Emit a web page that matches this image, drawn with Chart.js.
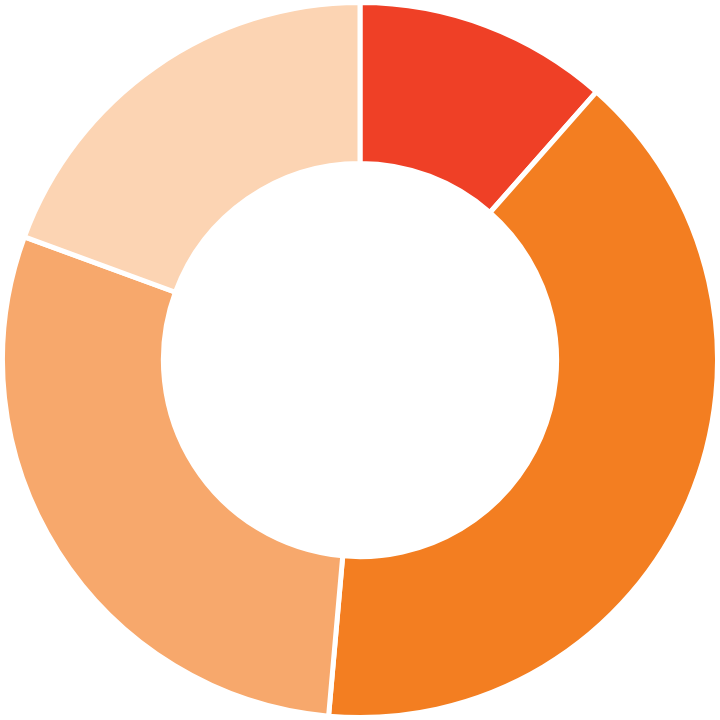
<!DOCTYPE html>
<html>
<head>
<meta charset="utf-8">
<script src="https://cdn.jsdelivr.net/npm/chart.js@4"></script>
<style>
  html, body { margin: 0; padding: 0; background: #fff; }
  #box { width: 720px; height: 720px; }
</style>
</head>
<body>
<div id="box"><canvas id="chartCanvas"></canvas></div>
<script>
// andele i procent, med uret fra toppen
const labels = ['A', 'B', 'C', 'D'];
const values = [11.5, 39.9, 29.2, 19.4];
const colors = ['#EF4026', '#F37E21', '#F7A86C', '#FCD4B3'];

let chart;

function showChart() {
  chart = new Chart(document.getElementById('chartCanvas'), {
    type: 'doughnut',
    data: {
      labels: labels,
      datasets: [{
        data: values,
        backgroundColor: colors,
        borderColor: '#ffffff',
        borderWidth: 5
      }]
    },
    options: {
      responsive: true,
      maintainAspectRatio: false,
      animation: false,
      cutout: '55%',
      layout: { padding: 0 },
      plugins: {
        legend: { display: false },
        tooltip: { enabled: false }
      }
    }
  });
}

showChart();
</script>
</body>
</html>
